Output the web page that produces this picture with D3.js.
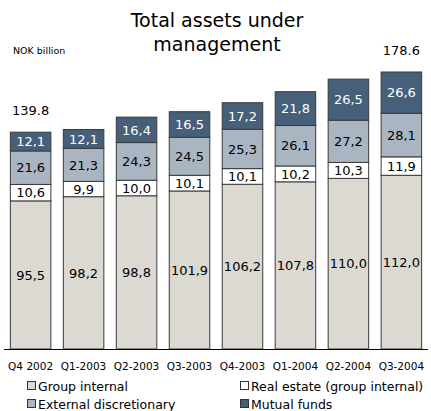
<!DOCTYPE html>
<html><head><meta charset="utf-8">
<script src="https://cdn.jsdelivr.net/npm/d3@7/dist/d3.min.js"></script>
<style>body{margin:0;background:#fff}svg{display:block}text{font-family:"DejaVu Sans",Verdana,sans-serif}</style>
</head><body><svg id="c" width="431" height="411"></svg>
<script>
const categories = ["Q4 2002","Q1-2003","Q2-2003","Q3-2003","Q4-2003","Q1-2004","Q2-2004","Q3-2004"];
const groupInternal = [95.5,98.2,98.8,101.9,106.2,107.8,110.0,112.0];
const realEstate = [10.6,9.9,10.0,10.1,10.1,10.2,10.3,11.9];
const externalDisc = [21.6,21.3,24.3,24.5,25.3,26.1,27.2,28.1];
const mutualFunds = [12.1,12.1,16.4,16.5,17.2,21.8,26.5,26.6];
const totalLabels = ["139.8","","","","","","","178.6"];
const seriesNames = ["Group internal","Real estate (group internal)","External discretionary","Mutual funds"];
const colors = ["#dcd9d3","#ffffff","#a9b6c1","#466079"];
const textColors = ["#000","#000","#000","#fff"];

const svg = d3.select("#c");
const base = 349;
const x = d3.scaleBand().domain(categories).range([4,428]).paddingInner(0.235).paddingOuter(0.12);
const y = d3.scaleLinear().domain([0,178.6]).range([base,72]);

const keys = ["g","r","e","m"];
const rows = categories.map((c,i)=>({cat:c,g:groupInternal[i],r:realEstate[i],e:externalDisc[i],m:mutualFunds[i]}));
const stack = d3.stack().keys(keys)(rows);
const fmt = v => v.toFixed(1).replace(".",",");

stack.forEach((layer,li)=>{
  const g = svg.append("g");
  g.selectAll("rect").data(layer).join("rect")
    .attr("x",d=>x(d.data.cat)).attr("width",x.bandwidth())
    .attr("y",d=>y(d[1])).attr("height",d=>y(d[0])-y(d[1]))
    .attr("fill",colors[li]).attr("stroke","#3a3a3a").attr("stroke-width",1);
  g.selectAll("text").data(layer).join("text")
    .attr("x",d=>x(d.data.cat)+x.bandwidth()/2)
    .attr("y",d=>(y(d[0])+y(d[1]))/2)
    .attr("dy","0.36em").attr("text-anchor","middle")
    .attr("font-size",13).attr("fill",textColors[li])
    .text(d=>fmt(d[1]-d[0]));
});

svg.selectAll("text.tot").data(rows).join("text").attr("class","tot")
  .attr("x",d=>x(d.cat)+x.bandwidth()/2)
  .attr("y",(d,i)=>y(d.g+d.r+d.e+d.m)-17)
  .attr("text-anchor","middle").attr("font-size",13)
  .text((d,i)=>totalLabels[i]);

svg.append("line").attr("x1",4).attr("x2",428).attr("y1",base+0.5).attr("y2",base+0.5).attr("stroke","#000");

svg.selectAll("text.xl").data(categories).join("text").attr("class","xl")
  .attr("x",d=>x(d)+x.bandwidth()/2).attr("y",366).attr("dy","0.36em").attr("text-anchor","middle")
  .attr("font-size",10.5).text(d=>d);

svg.append("text").attr("x",217).attr("y",27).attr("text-anchor","middle").attr("font-size",19).text("Total assets under");
svg.append("text").attr("x",217).attr("y",51).attr("text-anchor","middle").attr("font-size",19).text("management");
svg.append("text").attr("x",13).attr("y",54).attr("font-size",9.5).text("NOK billion");

const legPos = [[27,386],[240,386],[27,404],[240,404]];
seriesNames.forEach((n,i)=>{
  const [lx,ly] = legPos[i];
  svg.append("rect").attr("x",lx+0.5).attr("y",ly-4.5).attr("width",8).attr("height",8)
    .attr("fill",colors[i]).attr("stroke","#333");
  svg.append("text").attr("x",lx+11).attr("y",ly).attr("dy","0.36em").attr("font-size",12.5).text(n);
});
</script></body></html>
